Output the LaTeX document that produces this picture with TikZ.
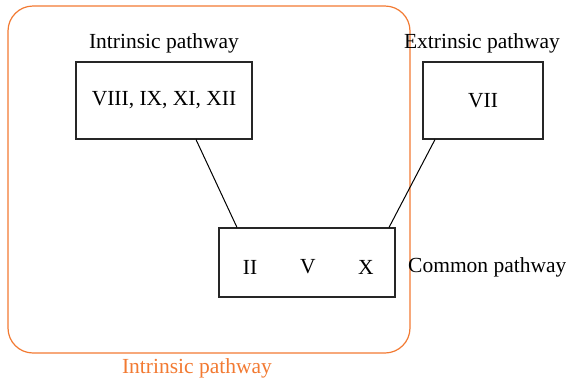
\documentclass[tikz,border=0pt]{standalone}
\usepackage{fontspec}
\setmainfont{Liberation Serif}
\definecolor{orng}{RGB}{242,122,50}
\begin{document}
\begin{tikzpicture}[x=1pt,y=-1pt,
  box/.style={draw=black!85,line width=1.1pt,inner sep=0pt},
  lbl/.style={font=\fontsize{21.5}{25}\selectfont,inner sep=0pt},
  conn/.style={draw=black,line width=1pt}]
\useasboundingbox (0,0) rectangle (566,381);
\draw[orng,line width=1.2pt,rounded corners=25pt] (8,6) rectangle (410,353);
\node[box,minimum width=176pt,minimum height=77pt] (intr) at (164,100.5) {};
\node[lbl] at (intr) {VIII, IX, XI, XII};
\node[box,minimum width=120pt,minimum height=77pt] (ext) at (483,100.5) {};
\node[lbl] at (ext) {VII};
\node[box,minimum width=176pt,minimum height=69pt] (com) at (307,262.5) {};
\node[lbl] (ii) at (250,267) {II};
\node[lbl] (v) at (308,267) {V};
\node[lbl] (x) at (366,267) {X};
\node[lbl] (intrl) at (164,43) {Intrinsic pathway};
\node[lbl] (extl) at (482,43) {Extrinsic pathway};
\node[lbl,anchor=west] (coml) at (408,267) {Common pathway};
\node[lbl,text=orng] (outl) at (197,368) {Intrinsic pathway};
\coordinate (a1) at ([xshift=32pt]intr.south);
\coordinate (a2) at ([xshift=-70pt]com.north);
\coordinate (b1) at ([xshift=-48pt]ext.south);
\coordinate (b2) at ([xshift=82pt]com.north);
\draw[conn] (a1) -- (a2);
\draw[conn] (b1) -- (b2);
\end{tikzpicture}
\end{document}
